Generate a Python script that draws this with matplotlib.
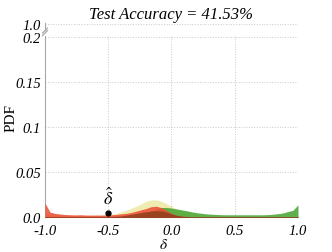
import numpy as np
import matplotlib
matplotlib.use("Agg")
import matplotlib.pyplot as plt

plt.rcParams['font.family'] = ['Liberation Serif', 'DejaVu Serif']
plt.rcParams['mathtext.fontset'] = 'stix'

# density sampled every 0.04 over delta in [-1, 1]
delta = np.linspace(-1.0, 1.0, 51)

red = [0.016, 0.006, 0.0045, 0.0038, 0.0033, 0.003, 0.0028, 0.003, 0.0027, 0.0026,
       0.0027, 0.0026, 0.0028, 0.0030, 0.0033, 0.004, 0.0045, 0.0055, 0.007, 0.0085,
       0.010, 0.012, 0.0125, 0.011, 0.008, 0.0045, 0.0025, 0.0015, 0.001, 0.0005,
       0.0004, 0.0003, 0.0003, 0.0003, 0.0003, 0.0003, 0.0003, 0.0003, 0.0003, 0.0003,
       0.0003, 0.0003, 0.0003, 0.0003, 0.0003, 0.0003, 0.0003, 0.0003, 0.0003, 0.0003,
       0.0003]
yellow = [0.003, 0.003, 0.003, 0.0028, 0.0027, 0.0026, 0.0027, 0.0026, 0.0025, 0.0026,
          0.0025, 0.0026, 0.0028, 0.0035, 0.0045, 0.006, 0.008, 0.010, 0.0125, 0.015,
          0.018, 0.0195, 0.0195, 0.018, 0.0155, 0.0125, 0.0095, 0.0075, 0.0055, 0.0042,
          0.0032, 0.0025, 0.002, 0.0015, 0.001, 0.001, 0.001, 0.001, 0.001, 0.001,
          0.001, 0.001, 0.001, 0.001, 0.001, 0.001, 0.001, 0.001, 0.001, 0.001,
          0.001]
green = [0.0005, 0.0005, 0.0005, 0.0005, 0.0005, 0.0005, 0.0005, 0.0005, 0.0005, 0.0005,
         0.0005, 0.0005, 0.0005, 0.0005, 0.0005, 0.0005, 0.0006, 0.0008, 0.0012, 0.0025,
         0.0045, 0.007, 0.009, 0.011, 0.0112, 0.0105, 0.0095, 0.0085, 0.0075, 0.0063,
         0.0053, 0.0046, 0.004, 0.0036, 0.0033, 0.0031, 0.003, 0.003, 0.003, 0.003,
         0.003, 0.003, 0.003, 0.003, 0.0032, 0.0036, 0.0042, 0.005, 0.0065, 0.008,
         0.014]
brown = [0.001, 0.001, 0.001, 0.001, 0.001, 0.001, 0.001, 0.001, 0.001, 0.001,
         0.001, 0.001, 0.001, 0.0011, 0.0013, 0.0017, 0.0025, 0.0035, 0.0045, 0.0055,
         0.0065, 0.0072, 0.0076, 0.0072, 0.006, 0.004, 0.0025, 0.0015, 0.001, 0.001,
         0.001, 0.001, 0.001, 0.001, 0.001, 0.001, 0.001, 0.001, 0.001, 0.001,
         0.001, 0.001, 0.001, 0.001, 0.001, 0.001, 0.001, 0.001, 0.001, 0.001,
         0.001]

delta_hat = -0.5
delta_hat_pdf = 0.005
accuracy = 41.53

xticks = [-1.0, -0.5, 0.0, 0.5, 1.0]
yticks = [0.0, 0.05, 0.1, 0.15, 0.2]

fig = plt.figure(figsize=(3.32, 2.53), dpi=100)
ax = fig.add_axes([0.1355, 0.1364, 0.762, 0.7186])
ax_top = fig.add_axes([0.1355, 0.8775, 0.762, 0.0265])

ax.fill_between(delta, yellow, color='#e4dc6c', alpha=0.55, linewidth=0, zorder=2)
ax.fill_between(delta, green, color='#4fa83a', alpha=0.9, linewidth=0, zorder=3)
ax.fill_between(delta, red, color='#ec4a32', alpha=0.85, linewidth=0, zorder=4)
ax.fill_between(delta, brown, color='#8a3d1a', alpha=0.8, linewidth=0, zorder=5)

ax.plot([delta_hat], [delta_hat_pdf], 'o', color='black', markersize=3.5, zorder=6)
ax.text(delta_hat, 0.0225, r'$\hat{\delta}$', fontsize=13, ha='center', va='center', zorder=6)

gray = '#a8a8a8'
for a in (ax, ax_top):
    a.set_xlim(-1.0, 1.0)
    a.spines['top'].set_visible(False)
    a.spines['right'].set_visible(False)
    a.spines['left'].set_color(gray)
    a.tick_params(length=0, labelsize=10.5, pad=3)

ax.spines['bottom'].set_color(gray)
ax.set_ylim(0, 0.202)
ax.set_xticks(xticks)
ax.set_yticks(yticks)
ax.set_xticklabels(['%.1f' % t for t in xticks], fontstyle='italic', fontsize=10.5)
ax.set_yticklabels(['0.0', '0.05', '0.1', '0.15', '0.2'], fontstyle='italic', fontsize=10.5)
ax.tick_params(axis='x', pad=5)
ax.grid(True, linestyle=':', color='#c8c8c8', linewidth=0.7, zorder=0)
ax.set_axisbelow(True)
ax.set_xlabel(r'$\delta$', fontsize=11)
ax.xaxis.set_label_coords(0.47, -0.108)
ax.set_ylabel('PDF', fontsize=11)
ax.yaxis.set_label_coords(-0.11, 0.555)

ax_top.spines['bottom'].set_visible(False)
ax_top.set_ylim(0.9, 1.005)
ax_top.set_yticks([1.0])
ax_top.set_yticklabels(['1.0'], fontstyle='italic', fontsize=10.5)
ax_top.set_xticks([])
ax_top.grid(True, axis='y', linestyle=':', color='#c8c8c8', linewidth=0.7)
ax_top.patch.set_alpha(0)
ax_top.set_title('Test Accuracy = %.2f%%' % accuracy, fontstyle='italic', fontsize=12, pad=4)

# break marks on the left spine
kw = dict(transform=fig.transFigure, color=gray, linewidth=0.9, clip_on=False)
fig.add_artist(plt.Line2D([0.128, 0.143], [0.855, 0.875], **kw))
fig.add_artist(plt.Line2D([0.128, 0.143], [0.865, 0.885], **kw))

fig.savefig('out.png', dpi=100)
